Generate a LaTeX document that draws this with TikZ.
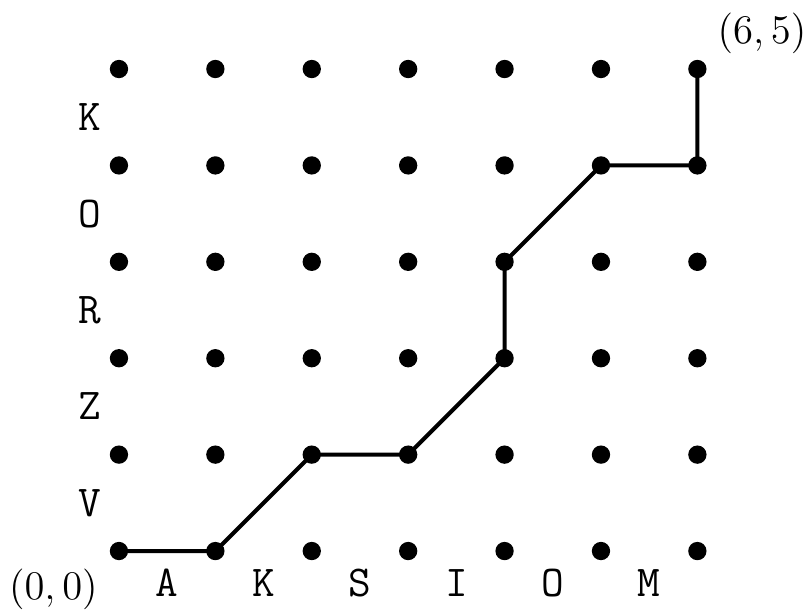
\documentclass[tikz,border=0pt]{standalone}
\begin{document}
\begin{tikzpicture}[x=1cm,y=1cm,
  dot/.style={circle,fill=black,inner sep=0pt,minimum size=0.19cm},
  pathline/.style={line width=1.2pt,line join=round},
  lbl/.style={font=\fontsize{13}{15}\selectfont\ttfamily,inner sep=0pt},
  endlbl/.style={font=\fontsize{13.2}{15}\selectfont,inner sep=0pt}]
\useasboundingbox (-1.234,-0.622) rectangle (7.158,5.716);
\foreach \i in {0,...,6}{
  \foreach \j in {0,...,5}{
    \node[dot] (p\i\j) at (\i,\j) {};
  }
}
\draw[pathline] (p00.center) -- (p10.center) -- (p21.center) -- (p31.center) -- (p42.center) -- (p43.center) -- (p54.center) -- (p64.center) -- (p65.center);
\foreach \t [count=\k from 0] in {A,K,S,I,O,M}{
  \node[lbl] (b\k) at (\k+0.5,-0.33) {\t};
}
\foreach \t [count=\k from 0] in {V,Z,R,O,K}{
  \node[lbl] (l\k) at (-0.30,\k+0.5) {\t};
}
\node[endlbl] (o) at (-0.68,-0.40) {$(0,0)$};
\node[endlbl] (e) at (6.67,5.37) {$(6,5)$};
\end{tikzpicture}
\end{document}
